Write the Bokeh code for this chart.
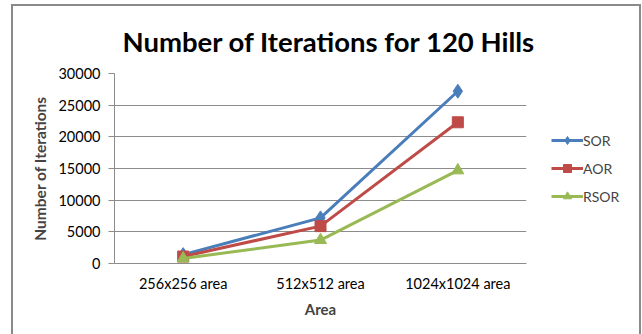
from bokeh.plotting import figure
from bokeh.layouts import row
from bokeh.models import Legend, LegendItem, Range1d, FixedTicker, Title
from bokeh.embed import file_html
from bokeh.resources import INLINE

categories = ["256x256 area", "512x512 area", "1024x1024 area"]
sor = [1400, 7200, 27200]
aor = [1100, 5900, 22300]
rsor = [800, 3700, 14700]
y_ticks = [0, 5000, 10000, 15000, 20000, 25000, 30000]
series_names = ["SOR", "AOR", "RSOR"]

FONT = "Lato"
p = figure(frame_width=412, frame_height=190, x_range=categories, y_range=Range1d(0, 30000),
           output_backend="svg", toolbar_location=None,
           min_border_left=101, min_border_right=10, min_border_top=67, min_border_bottom=71)
p.outline_line_color = None
p.background_fill_color = "white"
p.border_fill_color = "white"

p.xgrid.grid_line_color = None
p.ygrid.grid_line_color = "#8c8c8c"
p.ygrid.grid_line_width = 1

p.yaxis.ticker = FixedTicker(ticks=y_ticks)
p.yaxis.axis_line_color = "#8c8c8c"
p.yaxis.major_tick_line_color = "#8c8c8c"
p.yaxis.major_tick_out = 6
p.yaxis.major_tick_in = 0
p.yaxis.minor_tick_line_color = None
p.yaxis.major_label_text_font = FONT
p.yaxis.major_label_text_font_size = "14.5px"
p.yaxis.major_label_text_color = "#000000"
p.yaxis.major_label_standoff = 8
p.yaxis.axis_label = "Number of Iterations"
p.yaxis.axis_label_text_font = FONT
p.yaxis.axis_label_text_font_style = "bold"
p.yaxis.axis_label_text_font_size = "15.5px"
p.yaxis.axis_label_standoff = 6

p.xaxis.axis_line_color = "#8c8c8c"
p.xaxis.major_tick_line_color = None
p.xaxis.minor_tick_line_color = None
p.xaxis.major_label_text_font = FONT
p.xaxis.major_label_text_font_size = "14.5px"
p.xaxis.major_label_text_color = "#000000"
p.xaxis.major_label_standoff = 5
p.xaxis.axis_label = "Area"
p.xaxis.axis_label_text_font = FONT
p.xaxis.axis_label_text_font_style = "bold"
p.xaxis.axis_label_text_font_size = "15px"
p.xaxis.axis_label_standoff = 5

styles = [("#4A7EBB", "diamond", 14), ("#BE4B48", "square", 11), ("#98B954", "triangle", 12)]
for vals, (color, marker, size) in zip([sor, aor, rsor], styles):
    p.line(categories, vals, line_color=color, line_width=3)
    p.scatter(categories, vals, marker=marker, size=size, fill_color=color, line_color=color)

p.add_layout(Title(text="Number of Iterations for 120 Hills", text_font=FONT,
                   text_font_style="bold", text_font_size="27.5px", align="left",
                   text_color="#000000", standoff=32, offset=8), "above")

# legend panel (its key renderers sit outside its visible ranges)
pl = figure(width=103, height=328, x_range=Range1d(0, 1), y_range=Range1d(0, 1),
            output_backend="svg", toolbar_location=None,
            min_border_left=0, min_border_right=0, min_border_top=0, min_border_bottom=24)
pl.axis.visible = False
pl.grid.visible = False
pl.outline_line_color = None
pl.border_fill_color = "white"
pl.background_fill_color = "white"
items = []
for name, (color, marker, size) in zip(series_names, styles):
    lr = pl.line(x=[5, 6], y=[5, 6], line_color=color, line_width=3)
    sr = pl.scatter(x=[5], y=[5], marker=marker, size=size, fill_color=color, line_color=color)
    items.append(LegendItem(label=name, renderers=[lr, sr]))
legend = Legend(items=items, location="left", orientation="vertical",
                label_text_font=FONT, label_text_font_size="14px",
                glyph_width=32, spacing=8, padding=0, margin=15,
                label_standoff=-6, border_line_color=None, background_fill_alpha=0)
pl.add_layout(legend, "center")

layout = row(p, pl, spacing=0)
layout.styles = {"margin-left": "11px", "margin-top": "4px",
                 "border-left": "2px solid #8a8a8a", "border-top": "2px solid #8a8a8a",
                 "border-right": "2px solid #8a8a8a"}

open("out.html", "w").write(file_html(layout, INLINE))
